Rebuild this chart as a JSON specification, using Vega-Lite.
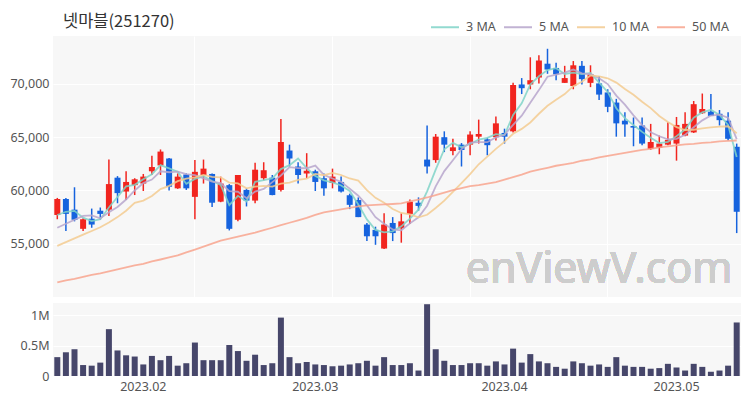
{
  "$schema": "https://vega.github.io/schema/vega-lite/v6.json",
  "padding": {"left": 9, "top": 12, "right": 6, "bottom": 6},
  "background": "white",
  "config": {
    "view": {"fill": "#f7f7f7", "stroke": null},
    "font": "Noto Sans",
    "axis": {"labelFont": "Noto Sans", "labelColor": "#555555", "labelFontSize": 12.5, "domain": false, "ticks": false, "gridColor": "#ffffff", "gridWidth": 1.2, "title": null},
    "concat": {"spacing": 6}
  },
  "datasets": {
    "ohlc": [
      {"d":"2023-01-16","o":57700,"h":59300,"l":57300,"c":59200,"v":310000,"ma3":57700,"ma5":56500,"ma10":54800,"ma50":51380},
      {"d":"2023-01-17","o":59200,"h":59300,"l":56200,"c":57800,"v":390000,"ma3":58000,"ma5":56880,"ma10":55150,"ma50":51570},
      {"d":"2023-01-18","o":58200,"h":60300,"l":57100,"c":57250,"v":440000,"ma3":58083,"ma5":57250,"ma10":55500,"ma50":51710},
      {"d":"2023-01-19","o":56400,"h":57400,"l":56200,"c":57300,"v":180000,"ma3":57450,"ma5":57610,"ma10":55850,"ma50":51890},
      {"d":"2023-01-20","o":57350,"h":58300,"l":56500,"c":56800,"v":170000,"ma3":57117,"ma5":57670,"ma10":56200,"ma50":52080},
      {"d":"2023-01-25","o":58100,"h":58400,"l":57250,"c":57800,"v":220000,"ma3":57300,"ma5":57390,"ma10":56550,"ma50":52220},
      {"d":"2023-01-26","o":58200,"h":62900,"l":57600,"c":60600,"v":770000,"ma3":58400,"ma5":57950,"ma10":57000,"ma50":52410},
      {"d":"2023-01-27","o":61200,"h":61350,"l":58800,"c":59750,"v":420000,"ma3":59383,"ma5":58450,"ma10":57500,"ma50":52590},
      {"d":"2023-01-30","o":59900,"h":61800,"l":59100,"c":60800,"v":340000,"ma3":60383,"ma5":59150,"ma10":58100,"ma50":52780},
      {"d":"2023-01-31","o":60500,"h":61150,"l":59570,"c":61050,"v":320000,"ma3":60533,"ma5":60000,"ma10":58835,"ma50":52970},
      {"d":"2023-02-01","o":60650,"h":61550,"l":59950,"c":61300,"v":190000,"ma3":61050,"ma5":60700,"ma10":59045,"ma50":53100},
      {"d":"2023-02-02","o":61800,"h":63250,"l":61450,"c":62200,"v":330000,"ma3":61517,"ma5":61020,"ma10":59485,"ma50":53340},
      {"d":"2023-02-03","o":62350,"h":63850,"l":61450,"c":63650,"v":260000,"ma3":62383,"ma5":61800,"ma10":60125,"ma50":53520},
      {"d":"2023-02-06","o":63000,"h":63050,"l":60000,"c":60350,"v":330000,"ma3":62067,"ma5":61710,"ma10":60430,"ma50":53710},
      {"d":"2023-02-07","o":60200,"h":61600,"l":60150,"c":61300,"v":170000,"ma3":61767,"ma5":61760,"ma10":60880,"ma50":53900},
      {"d":"2023-02-08","o":61500,"h":61600,"l":60050,"c":60200,"v":210000,"ma3":60617,"ma5":61540,"ma10":61120,"ma50":54180},
      {"d":"2023-02-09","o":59400,"h":62850,"l":57300,"c":61750,"v":550000,"ma3":61083,"ma5":61450,"ma10":61235,"ma50":54450},
      {"d":"2023-02-10","o":61450,"h":62900,"l":60650,"c":62050,"v":260000,"ma3":61333,"ma5":61130,"ma10":61465,"ma50":54730},
      {"d":"2023-02-13","o":61550,"h":61600,"l":58450,"c":58850,"v":260000,"ma3":60883,"ma5":60830,"ma10":61270,"ma50":55010},
      {"d":"2023-02-14","o":58950,"h":61300,"l":58900,"c":60650,"v":260000,"ma3":60517,"ma5":60700,"ma10":61230,"ma50":55290},
      {"d":"2023-02-15","o":60500,"h":60600,"l":56250,"c":56400,"v":510000,"ma3":58633,"ma5":59940,"ma10":60740,"ma50":55480},
      {"d":"2023-02-16","o":57250,"h":61450,"l":57100,"c":61450,"v":410000,"ma3":59500,"ma5":59880,"ma10":60665,"ma50":55660},
      {"d":"2023-02-17","o":60050,"h":60200,"l":58500,"c":59050,"v":250000,"ma3":58967,"ma5":59280,"ma10":60205,"ma50":55850},
      {"d":"2023-02-20","o":59050,"h":62600,"l":58800,"c":61950,"v":350000,"ma3":60817,"ma5":59900,"ma10":60365,"ma50":56040},
      {"d":"2023-02-21","o":61150,"h":62650,"l":60950,"c":61900,"v":180000,"ma3":60967,"ma5":60150,"ma10":60425,"ma50":56270},
      {"d":"2023-02-22","o":61200,"h":61450,"l":59550,"c":59570,"v":210000,"ma3":61140,"ma5":60784,"ma10":60362,"ma50":56500},
      {"d":"2023-02-23","o":60050,"h":66700,"l":59900,"c":64550,"v":960000,"ma3":62007,"ma5":61404,"ma10":60642,"ma50":56740},
      {"d":"2023-02-24","o":63750,"h":64300,"l":62250,"c":63000,"v":310000,"ma3":62373,"ma5":62194,"ma10":60737,"ma50":56970},
      {"d":"2023-02-27","o":62250,"h":62650,"l":60650,"c":61450,"v":210000,"ma3":63000,"ma5":62094,"ma10":60997,"ma50":57200},
      {"d":"2023-02-28","o":61600,"h":63500,"l":61150,"c":61850,"v":230000,"ma3":62100,"ma5":62084,"ma10":61117,"ma50":57430},
      {"d":"2023-03-02","o":61800,"h":61950,"l":59950,"c":60800,"v":190000,"ma3":61367,"ma5":62330,"ma10":61557,"ma50":57710},
      {"d":"2023-03-03","o":61150,"h":61600,"l":59500,"c":60200,"v":180000,"ma3":60950,"ma5":61460,"ma10":61432,"ma50":57940},
      {"d":"2023-03-06","o":60700,"h":62050,"l":60200,"c":61300,"v":160000,"ma3":60767,"ma5":61120,"ma10":61657,"ma50":58080},
      {"d":"2023-03-07","o":60800,"h":61300,"l":59800,"c":59900,"v":170000,"ma3":60467,"ma5":60810,"ma10":61452,"ma50":58220},
      {"d":"2023-03-08","o":59550,"h":59700,"l":58250,"c":58650,"v":190000,"ma3":59950,"ma5":60170,"ma10":61127,"ma50":58360},
      {"d":"2023-03-09","o":59100,"h":59350,"l":57500,"c":57500,"v":210000,"ma3":58683,"ma5":59510,"ma10":60920,"ma50":58500},
      {"d":"2023-03-10","o":56800,"h":56950,"l":55250,"c":55700,"v":250000,"ma3":57283,"ma5":58610,"ma10":60035,"ma50":58600},
      {"d":"2023-03-13","o":56300,"h":56600,"l":54900,"c":55700,"v":170000,"ma3":56300,"ma5":57490,"ma10":59305,"ma50":58640},
      {"d":"2023-03-14","o":54550,"h":57850,"l":54500,"c":56800,"v":310000,"ma3":56067,"ma5":56870,"ma10":58840,"ma50":58690},
      {"d":"2023-03-15","o":56950,"h":57500,"l":55250,"c":56000,"v":180000,"ma3":56167,"ma5":56340,"ma10":58255,"ma50":58730},
      {"d":"2023-03-16","o":56450,"h":57850,"l":55100,"c":57100,"v":180000,"ma3":56633,"ma5":56260,"ma10":57885,"ma50":58780},
      {"d":"2023-03-17","o":57800,"h":59150,"l":56850,"c":58950,"v":210000,"ma3":57350,"ma5":56910,"ma10":57760,"ma50":58970},
      {"d":"2023-03-20","o":58850,"h":59350,"l":58100,"c":58550,"v":90000,"ma3":58200,"ma5":57480,"ma10":57485,"ma50":59150},
      {"d":"2023-03-21","o":62900,"h":66100,"l":61600,"c":62250,"v":1180000,"ma3":59917,"ma5":58570,"ma10":57720,"ma50":59340},
      {"d":"2023-03-22","o":62850,"h":65300,"l":62600,"c":65050,"v":440000,"ma3":61950,"ma5":60380,"ma10":58360,"ma50":59570},
      {"d":"2023-03-23","o":65000,"h":65550,"l":63600,"c":64300,"v":250000,"ma3":63867,"ma5":61820,"ma10":59040,"ma50":59800},
      {"d":"2023-03-24","o":63700,"h":64850,"l":63300,"c":64050,"v":180000,"ma3":64467,"ma5":62840,"ma10":59875,"ma50":60040},
      {"d":"2023-03-27","o":64300,"h":64450,"l":62250,"c":63800,"v":180000,"ma3":64050,"ma5":63890,"ma10":60685,"ma50":60220},
      {"d":"2023-03-28","o":64300,"h":65550,"l":63300,"c":65250,"v":210000,"ma3":64367,"ma5":64490,"ma10":61530,"ma50":60410},
      {"d":"2023-03-29","o":65050,"h":66650,"l":64400,"c":65300,"v":210000,"ma3":64783,"ma5":64540,"ma10":62460,"ma50":60500},
      {"d":"2023-03-30","o":64800,"h":64950,"l":63300,"c":64250,"v":170000,"ma3":64933,"ma5":64530,"ma10":63175,"ma50":60640},
      {"d":"2023-03-31","o":65000,"h":66950,"l":64700,"c":66300,"v":240000,"ma3":65283,"ma5":64980,"ma10":63910,"ma50":60780},
      {"d":"2023-04-03","o":65400,"h":65800,"l":64400,"c":65050,"v":190000,"ma3":65200,"ma5":65230,"ma10":64560,"ma50":61020},
      {"d":"2023-04-04","o":65550,"h":70100,"l":65450,"c":69900,"v":450000,"ma3":67083,"ma5":66160,"ma10":65325,"ma50":61250},
      {"d":"2023-04-05","o":69950,"h":70550,"l":69050,"c":69600,"v":220000,"ma3":68183,"ma5":67020,"ma10":65780,"ma50":61480},
      {"d":"2023-04-06","o":69950,"h":72500,"l":69500,"c":70350,"v":360000,"ma3":69950,"ma5":68240,"ma10":66385,"ma50":61760},
      {"d":"2023-04-07","o":70600,"h":72700,"l":70050,"c":72200,"v":240000,"ma3":70717,"ma5":69420,"ma10":67200,"ma50":61950},
      {"d":"2023-04-10","o":71900,"h":73300,"l":70950,"c":71350,"v":210000,"ma3":71300,"ma5":70680,"ma10":67955,"ma50":62130},
      {"d":"2023-04-11","o":71500,"h":72000,"l":70350,"c":70900,"v":150000,"ma3":71483,"ma5":70880,"ma10":68520,"ma50":62320},
      {"d":"2023-04-12","o":70100,"h":71700,"l":70100,"c":70550,"v":120000,"ma3":70933,"ma5":71070,"ma10":69045,"ma50":62460},
      {"d":"2023-04-13","o":69800,"h":72150,"l":69500,"c":71750,"v":240000,"ma3":71067,"ma5":71350,"ma10":69795,"ma50":62600},
      {"d":"2023-04-14","o":71700,"h":72150,"l":69950,"c":70450,"v":210000,"ma3":70917,"ma5":71000,"ma10":70210,"ma50":62790},
      {"d":"2023-04-17","o":70100,"h":71750,"l":69700,"c":70900,"v":170000,"ma3":71033,"ma5":70910,"ma10":70795,"ma50":62920},
      {"d":"2023-04-18","o":70050,"h":70750,"l":68500,"c":69000,"v":190000,"ma3":70117,"ma5":70530,"ma10":70705,"ma50":63110},
      {"d":"2023-04-19","o":69200,"h":69500,"l":67350,"c":67850,"v":150000,"ma3":69250,"ma5":69990,"ma10":70530,"ma50":63250},
      {"d":"2023-04-20","o":68250,"h":68600,"l":65050,"c":66300,"v":310000,"ma3":67717,"ma5":68900,"ma10":70125,"ma50":63390},
      {"d":"2023-04-21","o":66550,"h":67350,"l":65050,"c":66200,"v":170000,"ma3":66783,"ma5":68050,"ma10":69525,"ma50":63530},
      {"d":"2023-04-24","o":66050,"h":66850,"l":64150,"c":65900,"v":150000,"ma3":66133,"ma5":67050,"ma10":68980,"ma50":63670},
      {"d":"2023-04-25","o":66100,"h":66850,"l":64250,"c":64400,"v":150000,"ma3":65500,"ma5":66130,"ma10":68330,"ma50":63810},
      {"d":"2023-04-26","o":63900,"h":66250,"l":63800,"c":64550,"v":120000,"ma3":64950,"ma5":65470,"ma10":67730,"ma50":63900},
      {"d":"2023-04-27","o":64000,"h":65150,"l":63400,"c":64400,"v":130000,"ma3":64450,"ma5":65090,"ma10":66995,"ma50":64040},
      {"d":"2023-04-28","o":64300,"h":66400,"l":64250,"c":64750,"v":200000,"ma3":64567,"ma5":64800,"ma10":66425,"ma50":64130},
      {"d":"2023-05-02","o":64400,"h":66900,"l":62800,"c":66150,"v":140000,"ma3":65100,"ma5":64850,"ma10":65950,"ma50":64230},
      {"d":"2023-05-03","o":65150,"h":67350,"l":65100,"c":66250,"v":90000,"ma3":65717,"ma5":65220,"ma10":65675,"ma50":64320},
      {"d":"2023-05-04","o":65450,"h":68400,"l":65400,"c":68100,"v":200000,"ma3":66833,"ma5":65930,"ma10":65700,"ma50":64370},
      {"d":"2023-05-08","o":67250,"h":69100,"l":67200,"c":67650,"v":150000,"ma3":67333,"ma5":66580,"ma10":65835,"ma50":64460},
      {"d":"2023-05-09","o":67400,"h":69050,"l":67000,"c":67000,"v":70000,"ma3":67583,"ma5":67030,"ma10":65915,"ma50":64510},
      {"d":"2023-05-10","o":67200,"h":67550,"l":66100,"c":66600,"v":90000,"ma3":67083,"ma5":67120,"ma10":65985,"ma50":64600},
      {"d":"2023-05-11","o":66550,"h":67350,"l":64700,"c":64850,"v":170000,"ma3":66150,"ma5":66840,"ma10":66030,"ma50":64650},
      {"d":"2023-05-12","o":64100,"h":64400,"l":56000,"c":58000,"v":880000,"ma3":63150,"ma5":64820,"ma10":65375,"ma50":64690}
    ]
  },
  "vconcat": [
    {
      "width": 688,
      "height": 261,
      "title": {"text": "넷마블(251270)", "anchor": "start", "frame": "group", "font": "Noto Sans CJK KR", "fontSize": 16.5, "fontWeight": "normal", "color": "#333333", "dx": 10, "offset": 6},
      "data": {"name": "ohlc"},
      "encoding": {
        "x": {"field": "d", "type": "ordinal", "scale": {"paddingInner": 0, "paddingOuter": 0},
              "axis": {"values": ["2023-02-09", "2023-03-06", "2023-03-28", "2023-04-19"], "labels": false, "grid": true, "ticks": false, "domain": false}}
      },
      "layer": [
        {
          "mark": {"type": "rule", "strokeWidth": 1.5},
          "encoding": {
            "y": {"field": "l", "type": "quantitative", "scale": {"domain": [50000, 74500], "nice": false, "zero": false},
                  "axis": {"values": [55000, 60000, 65000, 70000], "labelExpr": "format(datum.value, ',')", "grid": true, "labelPadding": 4}},
            "y2": {"field": "h"},
            "color": {"condition": {"test": "datum.c >= datum.o", "value": "#f1251f"}, "value": "#1663de"}
          }
        },
        {
          "mark": {"type": "bar", "width": 6},
          "encoding": {
            "y": {"field": "o", "type": "quantitative"},
            "y2": {"field": "c"},
            "color": {"condition": {"test": "datum.c >= datum.o", "value": "#f1251f"}, "value": "#1663de"}
          }
        },
        {
          "transform": [{"fold": ["ma3", "ma5", "ma10", "ma50"], "as": ["k", "val"]}],
          "mark": {"type": "line", "strokeWidth": 1.8, "opacity": 0.85},
          "encoding": {
            "y": {"field": "val", "type": "quantitative"},
            "color": {"field": "k", "type": "nominal",
                      "scale": {"domain": ["ma3", "ma5", "ma10", "ma50"], "range": ["#80d4c8", "#b7a6cc", "#f3cb90", "#f8a48e"]},
                      "legend": {"orient": "none", "legendX": 377, "legendY": -24, "direction": "horizontal", "title": null,
                                 "symbolType": "stroke", "symbolStrokeWidth": 2, "symbolSize": 784, "columnPadding": 4, "labelOffset": 6,
                                 "labelFontSize": 12.5, "labelColor": "#555555", "labelFont": "Noto Sans",
                                 "labelExpr": "datum.label == 'ma3' ? '3 MA' : datum.label == 'ma5' ? '5 MA' : datum.label == 'ma10' ? '10 MA' : '50 MA'"}}
          }
        },
        {
          "mark": {"type": "text", "fontSize": 43, "color": "#cdcdcd", "font": "Noto Sans", "align": "center", "baseline": "middle"},
          "encoding": {
            "x": {"datum": "2023-04-18"},
            "y": {"datum": 52500, "type": "quantitative"},
            "text": {"value": "enViewV.com"}
          }
        }
      ]
    },
    {
      "width": 688,
      "height": 73,
      "data": {"name": "ohlc"},
      "mark": {"type": "bar", "width": 6, "color": "#46466a"},
      "encoding": {
        "x": {"field": "d", "type": "ordinal", "scale": {"paddingInner": 0, "paddingOuter": 0},
              "axis": {"values": ["2023-02-01", "2023-03-02", "2023-04-03", "2023-05-02"], "labelExpr": "replace(slice(datum.value, 0, 7), '-', '.')", "labelAngle": 0, "grid": false, "labelPadding": 4}},
        "y": {"field": "v", "type": "quantitative", "scale": {"domain": [0, 1200000], "nice": false},
              "axis": {"values": [0, 500000, 1000000], "labelExpr": "datum.value == 0 ? '0' : (datum.value / 1000000) + 'M'", "grid": true, "labelPadding": 4}}
      }
    }
  ]
}
